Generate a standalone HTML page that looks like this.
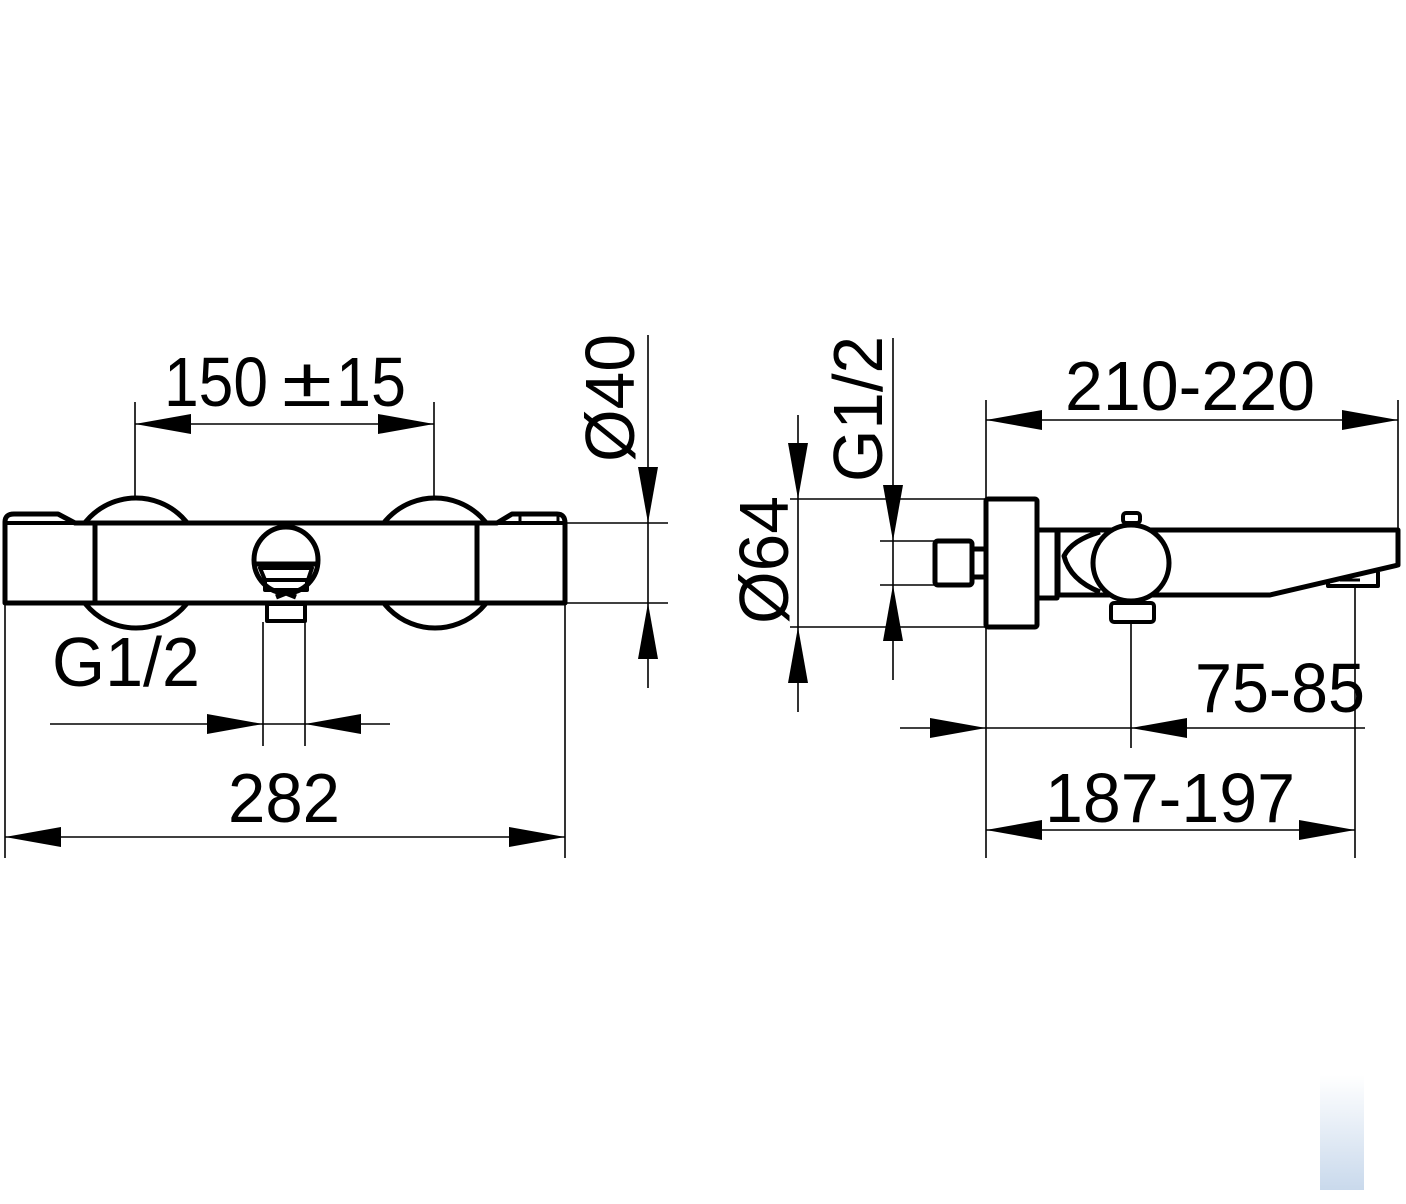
<!DOCTYPE html>
<html><head><style>html,body{margin:0;padding:0;background:#fff}svg{display:block}</style></head>
<body>
<svg width="1406" height="1204" viewBox="0 0 1406 1204" xmlns="http://www.w3.org/2000/svg" font-family="Liberation Sans, sans-serif">
<defs>
<g id="a"><polygon points="0,0 56,-10 56,10" fill="#000"/></g>
<linearGradient id="wm" x1="0" y1="0" x2="0" y2="1"><stop offset="0" stop-color="#fff"/><stop offset="1" stop-color="#c9d9ec"/></linearGradient>
</defs>
<rect x="1320" y="1075" width="44" height="115" fill="url(#wm)"/>
<g fill="none" stroke="#000" stroke-width="5" stroke-linejoin="round">
<circle cx="136" cy="563" r="65" fill="#fff"/>
<circle cx="435" cy="563" r="65" fill="#fff"/>
<path d="M5,603 V522 Q5,514 14,514 H58 L75,523 H497 L512,514 H557 Q565,514 565,523 V603 Z" fill="#fff"/>
<line x1="5" y1="523" x2="565" y2="523" stroke-width="4"/>
<line x1="95" y1="523" x2="95" y2="603"/>
<line x1="477" y1="523" x2="477" y2="603"/>
<line x1="520" y1="514" x2="520" y2="523" stroke-width="3"/>
<line x1="558" y1="514" x2="558" y2="523" stroke-width="3"/>
<ellipse cx="286" cy="560" rx="32" ry="33" fill="#fff"/>
<line x1="256" y1="564" x2="316" y2="564"/>
<path d="M260,568 L312,568 L308,580 H265 Z" stroke-width="4"/>
<path d="M265,581 V590 H307 V581" stroke-width="4"/>
<path d="M276,597 L286,593 L296,597" stroke-width="5"/>
<rect x="267" y="604" width="38" height="17" stroke-width="4"/>
<rect x="986" y="499" width="51" height="128" rx="2"/>
<rect x="935" y="541" width="37" height="44" rx="3"/>
<rect x="972" y="549" width="14" height="28"/>
<rect x="1037" y="530" width="20" height="68"/>
<path d="M1058,530 H1398 V565 L1270,595 H1058 Z"/>
<path d="M1100,532 Q1072,540 1064,556 Q1070,580 1100,592"/>
<circle cx="1131" cy="563" r="38" fill="#fff"/>
<rect x="1123" y="513" width="17" height="10" rx="3" stroke-width="4"/>
<rect x="1111" y="603" width="43" height="19" rx="3" stroke-width="4"/>
<path d="M1328,580 V586 H1378 V572" stroke-width="4"/>
<line x1="1340" y1="580" x2="1360" y2="580" stroke-width="3"/>
</g>
<g stroke="#000" stroke-width="1.6" fill="none">
<line x1="135" y1="402" x2="135" y2="498"/><line x1="434" y1="402" x2="434" y2="498"/>
<line x1="135" y1="424" x2="434" y2="424"/>
<line x1="5" y1="603" x2="5" y2="858"/><line x1="565" y1="603" x2="565" y2="858"/>
<line x1="5" y1="837" x2="565" y2="837"/>
<line x1="263" y1="622" x2="263" y2="746"/><line x1="305" y1="622" x2="305" y2="746"/>
<line x1="50" y1="724" x2="390" y2="724"/>
<line x1="648" y1="335" x2="648" y2="688"/>
<line x1="565" y1="523" x2="668" y2="523"/><line x1="565" y1="603" x2="668" y2="603"/>
<line x1="798" y1="415" x2="798" y2="712"/>
<line x1="790" y1="499" x2="986" y2="499"/><line x1="790" y1="627" x2="986" y2="627"/>
<line x1="893" y1="338" x2="893" y2="680"/>
<line x1="880" y1="541" x2="935" y2="541"/><line x1="880" y1="585" x2="935" y2="585"/>
<line x1="986" y1="400" x2="986" y2="499"/><line x1="1398" y1="400" x2="1398" y2="530"/>
<line x1="986" y1="420" x2="1398" y2="420"/>
<line x1="1131" y1="622" x2="1131" y2="748"/><line x1="986" y1="627" x2="986" y2="858"/>
<line x1="900" y1="728" x2="1365" y2="728"/>
<line x1="1355" y1="587" x2="1355" y2="858"/>
<line x1="986" y1="830" x2="1355" y2="830"/>
</g>
<g>
<use href="#a" transform="translate(135,424)"/>
<use href="#a" transform="translate(434,424) rotate(180)"/>
<use href="#a" transform="translate(5,837)"/>
<use href="#a" transform="translate(565,837) rotate(180)"/>
<use href="#a" transform="translate(263,724) rotate(180)"/>
<use href="#a" transform="translate(305,724)"/>
<use href="#a" transform="translate(648,523) rotate(-90)"/>
<use href="#a" transform="translate(648,603) rotate(90)"/>
<use href="#a" transform="translate(798,499) rotate(-90)"/>
<use href="#a" transform="translate(798,627) rotate(90)"/>
<use href="#a" transform="translate(893,541) rotate(-90)"/>
<use href="#a" transform="translate(893,585) rotate(90)"/>
<use href="#a" transform="translate(986,420)"/>
<use href="#a" transform="translate(1398,420) rotate(180)"/>
<use href="#a" transform="translate(986,728) rotate(180)"/>
<use href="#a" transform="translate(1131,728)"/>
<use href="#a" transform="translate(986,830)"/>
<use href="#a" transform="translate(1355,830) rotate(180)"/>
</g>
<g font-size="70" fill="#000">
<text x="164" y="406" textLength="104" lengthAdjust="spacingAndGlyphs">150</text>
<text x="282" y="406" textLength="50" lengthAdjust="spacingAndGlyphs">±</text>
<text x="336" y="406" textLength="70" lengthAdjust="spacingAndGlyphs">15</text>
<text x="228" y="822" textLength="112" lengthAdjust="spacingAndGlyphs">282</text>
<text x="52" y="686" textLength="148" lengthAdjust="spacingAndGlyphs">G1/2</text>
<text x="1065" y="410" textLength="250" lengthAdjust="spacingAndGlyphs">210-220</text>
<text x="1195" y="712" textLength="170" lengthAdjust="spacingAndGlyphs">75-85</text>
<text x="1045" y="822" textLength="250" lengthAdjust="spacingAndGlyphs">187-197</text>
<text transform="translate(634,462) rotate(-90)" textLength="128" lengthAdjust="spacingAndGlyphs">Ø40</text>
<text transform="translate(788,624) rotate(-90)" textLength="128" lengthAdjust="spacingAndGlyphs">Ø64</text>
<text transform="translate(882,482) rotate(-90)" textLength="146" lengthAdjust="spacingAndGlyphs">G1/2</text>
</g>
</svg>
</body></html>
